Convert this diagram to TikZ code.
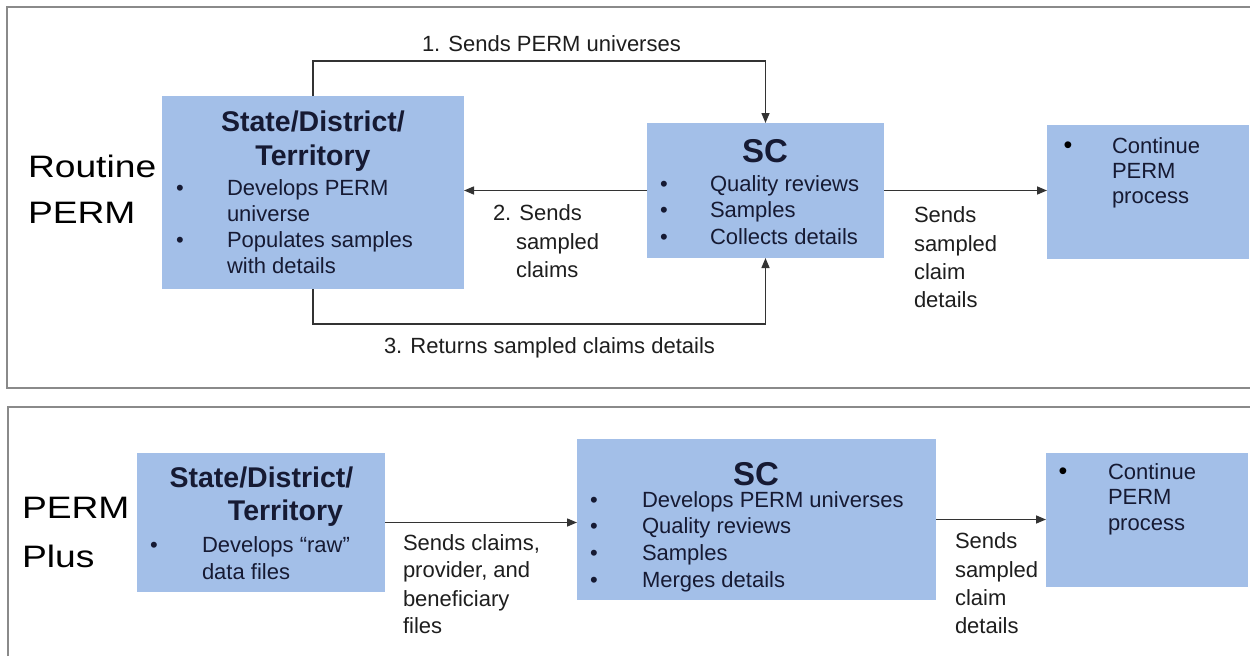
\documentclass[tikz,border=0pt]{standalone}
\usepackage{fontspec}
\setmainfont{Liberation Sans}
\newfontfamily\widefont{Liberation Sans}[FakeStretch=1.2]
\usetikzlibrary{arrows.meta}
\definecolor{boxblue}{HTML}{A3BFE8}
\definecolor{boxtext}{HTML}{161A33}
\definecolor{lbltext}{HTML}{1E1E1E}
\definecolor{framegray}{HTML}{8A8A8A}
\definecolor{conngray}{HTML}{333333}
\tikzset{
  box/.style={fill=boxblue, draw=none, inner sep=0pt, outer sep=0pt, anchor=north west},
  txt/.style={inner sep=0pt, outer sep=0pt, anchor=base west, font=\fontsize{22}{26}\selectfont, text=boxtext},
  lbl/.style={txt, text=lbltext},
  ttl/.style={inner sep=0pt, outer sep=0pt, anchor=base, font=\fontsize{28.5}{34}\selectfont\bfseries, text=boxtext},
  sctl/.style={ttl, font=\fontsize{33}{38}\selectfont\bfseries},
  side/.style={inner sep=0pt, outer sep=0pt, anchor=base west, font=\widefont\fontsize{31}{37}\selectfont, text=black},
  bul/.style={inner sep=0pt, outer sep=0pt, anchor=base, font=\fontsize{22}{26}\selectfont, text=boxtext},
  bigbul/.style={bul, font=\fontsize{25}{26}\selectfont, text=black},
  conn/.style={draw=conngray, line width=1.5pt, -{Triangle[length=10pt,width=8pt]}},
  frm/.style={draw=framegray, line width=2pt},
}
\begin{document}
\begin{tikzpicture}[x=1pt,y=-1pt]
\useasboundingbox (0,0) rectangle (1250,656);
\fill[white] (0,0) rectangle (1250,656);

% ---------- frames ----------
\draw[frm] (1250,7) -- (7,7) -- (7,388) -- (1250,388);
\draw[frm] (8,656) -- (8,407) -- (1250,407);

% ---------- Routine PERM ----------
\node[side] (rt1) at (28,177) {Routine};
\node[side] (rt2) at (28,223) {PERM};

\node[box, minimum width=302pt, minimum height=193pt] (st1) at (162,96) {};
\node[ttl] (st1t1) at (313,131) {State/District/};
\node[ttl] (st1t2) at (313,165) {Territory};
\node[bul] (st1b1) at (180,195) {•};
\node[bul] (st1b2) at (180,247) {•};
\node[txt] (st1l1) at (227,195) {Develops PERM};
\node[txt] (st1l2) at (227,221) {universe};
\node[txt] (st1l3) at (227,247) {Populates samples};
\node[txt] (st1l4) at (227,273) {with details};

\node[box, minimum width=237pt, minimum height=135pt] (sc1) at (647,123) {};
\node[sctl] (sc1t) at (765,162) {SC};
\node[bul] (sc1b1) at (664,191) {•};
\node[bul] (sc1b2) at (664,217) {•};
\node[bul] (sc1b3) at (664,244) {•};
\node[txt] (sc1l1) at (710,191) {Quality reviews};
\node[txt] (sc1l2) at (710,217) {Samples};
\node[txt] (sc1l3) at (710,244) {Collects details};

\node[box, minimum width=202pt, minimum height=134pt] (co1) at (1047,125) {};
\node[bigbul] (co1b) at (1068,153) {•};
\node[txt] (co1l1) at (1112,153) {Continue};
\node[txt] (co1l2) at (1112,178) {PERM};
\node[txt] (co1l3) at (1112,203) {process};

% connectors top
\coordinate (u1) at (313,61);
\coordinate (u2) at (765.5,61);
\draw[conn] (st1.north) -- (u1) -- (u2) -- (sc1.north);
\coordinate (r1) at (313,324);
\coordinate (r2) at (765.5,324);
\draw[conn] (st1.south) -- (r1) -- (r2) -- (sc1.south);
\draw[conn] (sc1.west) -- (sc1.west -| st1.east);
\draw[conn] (sc1.east) -- (sc1.east -| co1.west);

\node[lbl] (lab1) at (422,51) {1. Sends PERM universes};
\node[lbl] (lab2a) at (493,220) {2. Sends};
\node[lbl] (lab2b) at (516,249) {sampled};
\node[lbl] (lab2c) at (516,277) {claims};
\node[lbl] (lab3) at (384,353) {3. Returns sampled claims details};
\node[lbl] (lab4a) at (914,222) {Sends};
\node[lbl] (lab4b) at (914,251) {sampled};
\node[lbl] (lab4c) at (914,279) {claim};
\node[lbl] (lab4d) at (914,307) {details};

% ---------- PERM Plus ----------
\node[side] (pp1) at (22,518) {PERM};
\node[side] (pp2) at (22,567) {Plus};

\node[box, minimum width=248pt, minimum height=139pt] (st2) at (137,453) {};
\node[ttl] (st2t1) at (261.5,487) {State/District/};
\node[ttl] (st2t2) at (285.5,520) {Territory};
\node[bul] (st2b1) at (154,552) {•};
\node[txt] (st2l1) at (202,552) {Develops “raw”};
\node[txt] (st2l2) at (202,579) {data files};

\node[box, minimum width=359pt, minimum height=161pt] (sc2) at (577,439) {};
\node[sctl] (sc2t) at (756,485) {SC};
\node[bul] (sc2b1) at (594,507) {•};
\node[bul] (sc2b2) at (594,533) {•};
\node[bul] (sc2b3) at (594,560) {•};
\node[bul] (sc2b4) at (594,587) {•};
\node[txt] (sc2l1) at (642,507) {Develops PERM universes};
\node[txt] (sc2l2) at (642,533) {Quality reviews};
\node[txt] (sc2l3) at (642,560) {Samples};
\node[txt] (sc2l4) at (642,587) {Merges details};

\node[box, minimum width=202pt, minimum height=134pt] (co2) at (1046,453) {};
\node[bigbul] (co2b) at (1063,479) {•};
\node[txt] (co2l1) at (1108,479) {Continue};
\node[txt] (co2l2) at (1108,504) {PERM};
\node[txt] (co2l3) at (1108,530) {process};

\draw[conn] (st2.east) -- (st2.east -| sc2.west);
\draw[conn] (sc2.east) -- (sc2.east -| co2.west);

\node[lbl] (lab5a) at (403,550) {Sends claims,};
\node[lbl] (lab5b) at (403,577) {provider, and};
\node[lbl] (lab5c) at (403,606) {beneficiary};
\node[lbl] (lab5d) at (403,633) {files};
\node[lbl] (lab6a) at (955,548) {Sends};
\node[lbl] (lab6b) at (955,577) {sampled};
\node[lbl] (lab6c) at (955,605) {claim};
\node[lbl] (lab6d) at (955,633) {details};
\end{tikzpicture}
\end{document}
